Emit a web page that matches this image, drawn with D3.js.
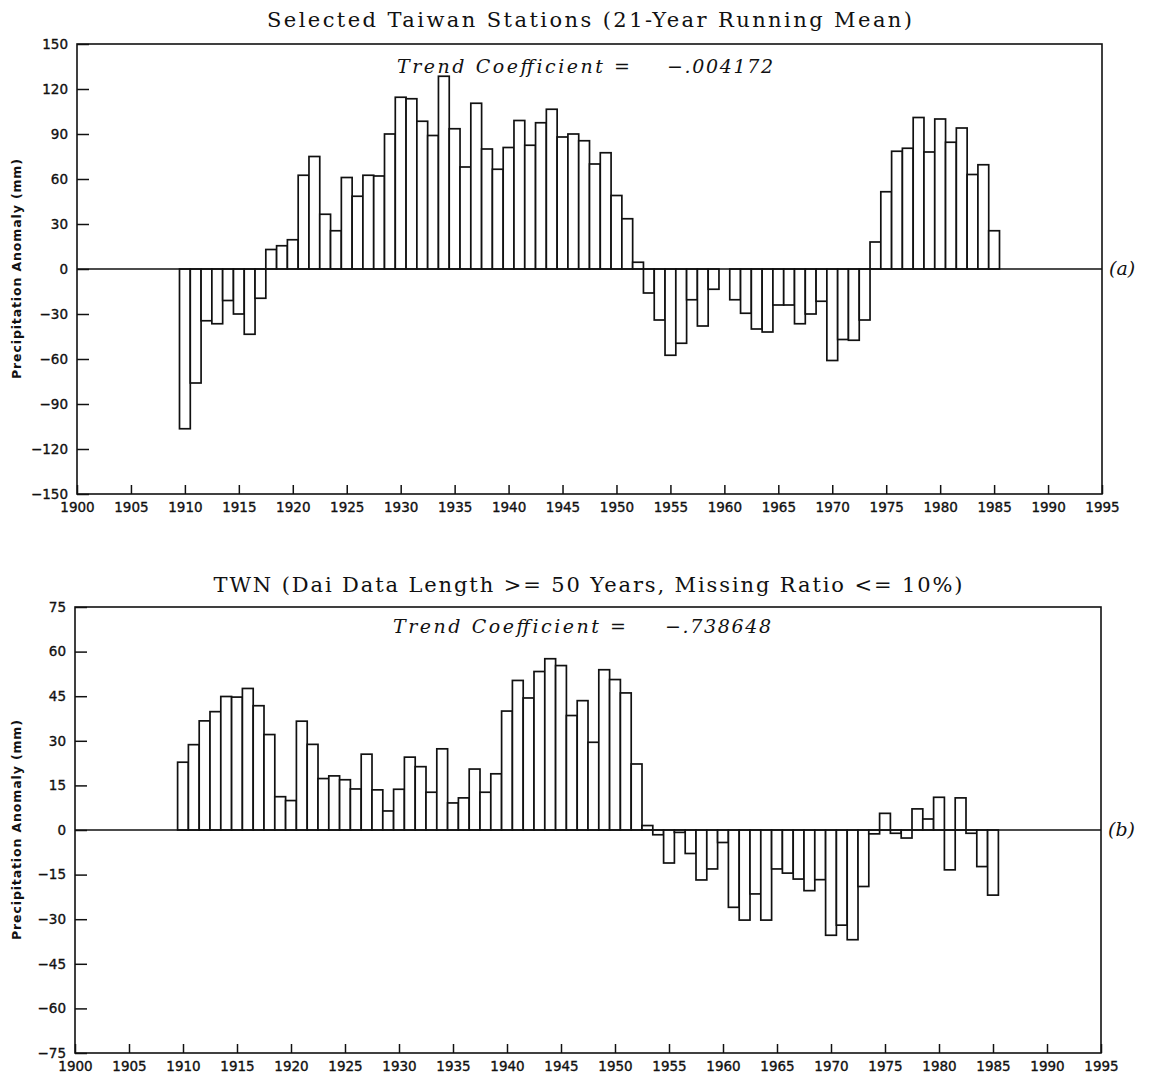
<!DOCTYPE html>
<html>
<head>
<meta charset="utf-8">
<script src="https://cdn.jsdelivr.net/npm/d3@7"></script>
<style>
  body { margin: 0; background: #fff; }
  svg { display: block; }
  .tick text { font-family: "DejaVu Sans", Arial, sans-serif; font-size: 13.5px; fill: #111; stroke: #111; stroke-width: 0.35px; }
  .tick line { stroke: #111; stroke-width: 1.5; }
</style>
</head>
<body>
<svg id="chart" width="1155" height="1075"></svg>
<script>
// years covered by both series
const years = d3.range(1910, 1986);

// (a) Selected Taiwan stations, 21-yr running mean (mm)
const taiwanAnom = [
  -106.5, -76, -34.5, -36.5, -21, -30, -43.5, -19.5, 13, 15.5,
  19.5, 62.5, 75, 36.5, 25.5, 61, 48.5, 62.5, 62, 90,
  114.5, 113.5, 98.5, 89, 128.5, 93.5, 68, 110.5, 80, 66.5,
  81, 99, 82.5, 97.5, 106.5, 88, 90, 85.5, 70, 77.5,
  49, 33.5, 4.5, -16, -34, -57.5, -49.5, -20.5, -38, -13.5,
  0, -20.5, -29.5, -40, -42, -24, -24, -36.5, -30, -21.5,
  -61, -47, -47.5, -34, 18, 51.5, 78.5, 80.5, 101, 78,
  100, 84.5, 94, 63, 69.5, 25.5
];

// (b) TWN, Dai data (mm)
const twnAnom = [
  22.8, 28.7, 36.7, 39.8, 44.9, 44.7, 47.6, 41.8, 32.1, 11.2,
  9.9, 36.6, 28.8, 17.3, 18.2, 16.9, 13.8, 25.5, 13.5, 6.4,
  13.7, 24.5, 21.3, 12.7, 27.3, 9.1, 10.8, 20.5, 12.7, 18.9,
  40, 50.3, 44.4, 53.3, 57.6, 55.3, 38.5, 43.5, 29.5, 53.9,
  50.6, 46.1, 22.2, 1.5, -1.6, -11.1, -0.8, -7.9, -16.8, -13.1,
  -4.2, -26, -30.3, -21.5, -30.3, -13.1, -14.5, -16.5, -20.4, -16.7,
  -35.4, -32, -36.9, -19, -1.3, 5.6, -1.1, -2.7, 7.1, 3.7,
  11, -13.4, 10.8, -1.1, -12.3, -21.9
];

const xTicks = d3.range(1900, 1996, 5);
const yTicksA = d3.range(-150, 151, 30);
const yTicksB = d3.range(-75, 76, 15);

const titles = [
  'Selected Taiwan Stations (21-Year Running Mean)',
  'TWN (Dai Data Length >= 50 Years, Missing Ratio <= 10%)'
];
const trendValues = ['\u2212.004172', '\u2212.738648'];
const panelLabels = ['(a)', '(b)'];

const panels = [
  { data: taiwanAnom, yMax: 150, yTicks: yTicksA, title: titles[0], trend: trendValues[0], label: panelLabels[0],
    top: 44, bottom: 494, left: 77, right: 1102, titleY: 27, titleW: 645, trendY: 73, trendX: 397, valX: 667 },
  { data: twnAnom, yMax: 75, yTicks: yTicksB, title: titles[1], trend: trendValues[1], label: panelLabels[1],
    top: 607, bottom: 1053, left: 75, right: 1101, titleY: 592, titleW: 749, trendY: 633, trendX: 393, valX: 665 }
];

const svg = d3.select('#chart');
const fmt = d => d < 0 ? '\u2212' + Math.abs(d) : String(d);
const serif = '"DejaVu Serif", "Liberation Serif", serif';

panels.forEach(p => {
  const x = d3.scaleLinear().domain([1900, 1995]).range([p.left, p.right]);
  const y = d3.scaleLinear().domain([-p.yMax, p.yMax]).range([p.bottom, p.top]);
  const g = svg.append('g');

  // bars
  g.selectAll('.bar')
    .data(years.map((yr, i) => ({ yr, v: p.data[i] })))
    .enter()
      .append('rect')
      .attr('x', d => x(d.yr - 0.5))
      .attr('width', d => x(d.yr + 0.5) - x(d.yr - 0.5))
      .attr('y', d => y(Math.max(0, d.v)))
      .attr('height', d => Math.abs(y(d.v) - y(0)))
      .attr('fill', '#fff')
      .attr('stroke', '#111')
      .attr('stroke-width', 1.7);

  // zero line
  g.append('line')
    .attr('x1', p.left).attr('x2', p.right)
    .attr('y1', y(0)).attr('y2', y(0))
    .attr('stroke', '#111').attr('stroke-width', 1.7);

  // axes, ticks pointing inward
  g.append('g')
    .attr('transform', `translate(${p.left},0)`)
    .call(d3.axisLeft(y).tickValues(p.yTicks).tickFormat(fmt)
      .tickSizeInner(-12).tickSizeOuter(0).tickPadding(9))
    .call(a => a.select('.domain').remove());

  g.append('g')
    .attr('transform', `translate(0,${p.bottom})`)
    .call(d3.axisBottom(x).tickValues(xTicks).tickFormat(d3.format('d'))
      .tickSizeInner(-9).tickSizeOuter(0).tickPadding(8))
    .call(a => a.select('.domain').remove());

  // frame
  g.append('rect')
    .attr('x', p.left).attr('y', p.top)
    .attr('width', p.right - p.left).attr('height', p.bottom - p.top)
    .attr('fill', 'none').attr('stroke', '#111').attr('stroke-width', 1.6);

  // title
  g.append('text')
    .attr('x', (p.left + p.right) / 2).attr('y', p.titleY)
    .attr('text-anchor', 'middle')
    .attr('textLength', p.titleW).attr('lengthAdjust', 'spacing')
    .style('font-family', serif)
    .style('font-size', '21px').style('fill', '#111')
    .text(p.title);

  // trend coefficient
  g.append('text')
    .attr('x', p.trendX).attr('y', p.trendY)
    .attr('textLength', 233).attr('lengthAdjust', 'spacing')
    .style('font-family', serif).style('font-style', 'italic')
    .style('font-size', '19px').style('fill', '#111')
    .text('Trend Coefficient =');
  g.append('text')
    .attr('x', p.valX).attr('y', p.trendY)
    .attr('textLength', 106).attr('lengthAdjust', 'spacing')
    .style('font-family', serif).style('font-style', 'italic')
    .style('font-size', '19px').style('fill', '#111')
    .text(p.trend);

  // panel label
  g.append('text')
    .attr('x', p.right + 7).attr('y', y(0) + 6)
    .style('font-family', serif).style('font-style', 'italic')
    .style('font-size', '19px').style('fill', '#111')
    .text(p.label);

  // y axis title
  g.append('text')
    .attr('transform', `translate(21,${(p.top + p.bottom) / 2}) rotate(-90)`)
    .attr('text-anchor', 'middle')
    .attr('textLength', 220).attr('lengthAdjust', 'spacing')
    .style('font-family', '"DejaVu Sans", Arial, sans-serif')
    .style('font-size', '12.5px').style('font-weight', 'bold').style('fill', '#111')
    .text('Precipitation Anomaly (mm)');
});
</script>
</body>
</html>
